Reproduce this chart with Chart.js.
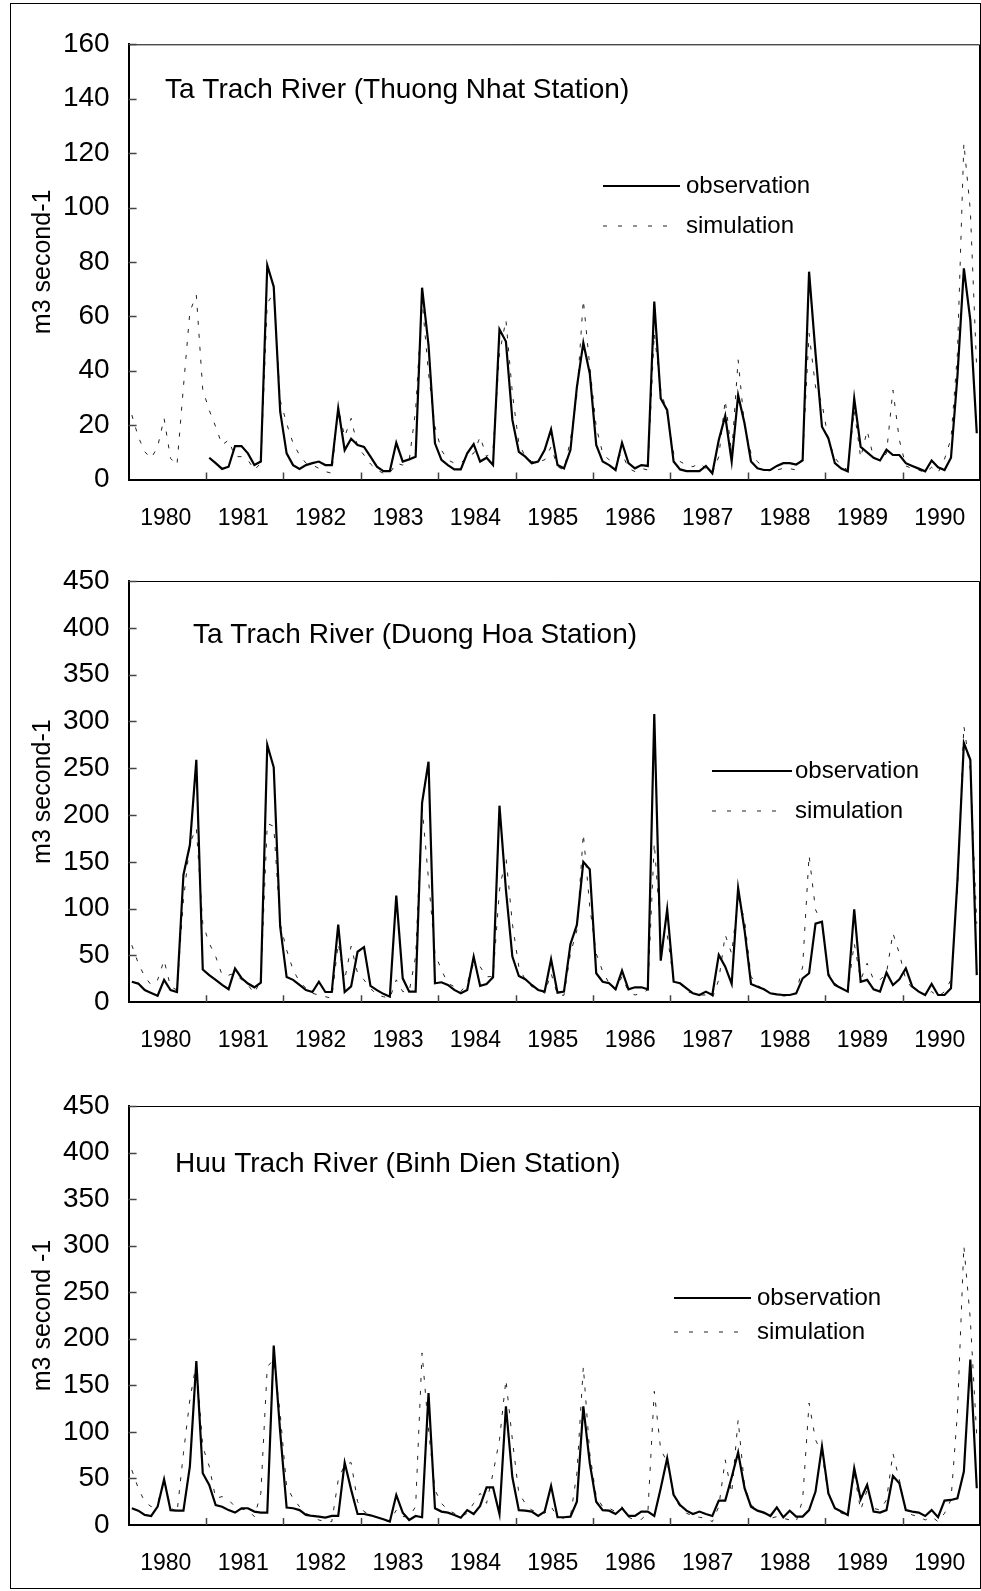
<!DOCTYPE html>
<html>
<head>
<meta charset="utf-8">
<title>Monthly discharge, observation vs simulation</title>
<script src="https://cdn.jsdelivr.net/npm/chart.js@4.4.1/dist/chart.umd.min.js"></script>
<style>
  html, body { margin: 0; padding: 0; background: #fff; }
  #page { position: relative; width: 981px; height: 1591px; overflow: hidden; background: #fff; }
  #frame { position: absolute; left: 10px; top: 3px; width: 969px; height: 1584px; border: 1px solid #000; }
  canvas { position: absolute; left: 0; }
</style>
</head>
<body>
<div id="page">
  <div id="frame"></div>
  <canvas id="thuongNhat" width="981" height="560" style="top:0px"></canvas>
  <canvas id="duongHoa" width="981" height="540" style="top:540px"></canvas>
  <canvas id="binhDien" width="981" height="521" style="top:1070px"></canvas>
</div>
<script>
"use strict";

// years on the x axis, one category per month
var YEARS = [1980, 1981, 1982, 1983, 1984, 1985, 1986, 1987, 1988, 1989, 1990];

var TICKS_TN = [0, 20, 40, 60, 80, 100, 120, 140, 160];
var TICKS_DH = [0, 50, 100, 150, 200, 250, 300, 350, 400, 450];
var TICKS_BD = [0, 50, 100, 150, 200, 250, 300, 350, 400, 450];

// Ta Trach River, Thuong Nhat station (m3/s), Jan 1980 .. Dec 1990
var TN_OBS = [
  null, null, null, null, null, null, null, null, null, null, null, null,
  8, 6, 3.9, 4.7, 12.3, 12.3, 9.6, 5.3, 6.6, 78.8, 70.9, 25,
  9.6, 5.3, 3.9, 5.3, 6, 6.6, 5.3, 5.3, 26.2, 10.8, 15, 12.7,
  12, 8.4, 4.7, 3.1, 3.1, 13.5, 6.6, 7.4, 8.4, 70.5, 49.4, 13.3,
  7.2, 5.3, 3.7, 3.7, 9.6, 13, 6.6, 8, 5.3, 55.2, 50.7, 21.9,
  10.2, 8.4, 6, 6.6, 10.8, 18.4, 5.3, 4.1, 10.8, 34, 50.3, 39,
  12.7, 6.6, 5.3, 3.5, 13.5, 6, 4.1, 5.3, 5, 65.4, 29.8, 25.5,
  6.6, 3.7, 3.1, 3.1, 3.1, 5, 2.3, 14.5, 23.4, 6.6, 31, 20.6,
  6.6, 4.1, 3.5, 3.5, 5, 6, 6, 5.5, 7, 76.4, 46.4, 19.4,
  15.1, 6, 4, 3, 29.8, 12, 10, 8, 7, 11, 9, 9,
  6, 5, 4, 3, 7, 4.5, 3.5, 8, 38, 77.6, 58.6, 17
];
var TN_SIM = [
  23.7, 15.7, 10.2, 7.8, 12, 22.5, 7.8, 5.3, 34, 61.7, 67.8, 33,
  25.5, 19.4, 12.7, 14.5, 8.4, 8.4, 7.2, 3.5, 6, 64.8, 68.5, 29.2,
  20.6, 13.3, 9, 6, 5.3, 4.1, 2.9, 2.3, 26.2, 15.7, 22.5, 12,
  9, 5.7, 3.5, 2.3, 2.3, 6, 5.3, 7, 25.5, 66, 39, 19.4,
  10.8, 7.2, 6, 6, 8.4, 9.6, 15.7, 8.4, 10.8, 46.4, 58.6, 31.7,
  13.3, 8.4, 6.6, 6.6, 7.2, 12, 4.7, 3.5, 14.5, 31, 66, 41.5,
  19.4, 9.6, 7.2, 7.2, 9.6, 4.1, 2.9, 4.1, 3.5, 53.7, 33, 24.3,
  9.6, 6.6, 5.3, 4.7, 6, 4.1, 2.3, 8.4, 29.2, 9.6, 44, 19.4,
  9.6, 6.6, 4.1, 2.9, 3.5, 4.1, 4, 3.5, 8, 53.7, 34, 28,
  14.5, 8, 5, 3.5, 25.5, 8, 18, 8, 7, 9.6, 32.9, 14.5,
  5, 4, 3.5, 2.5, 4.5, 2.5, 7.5, 15, 46.4, 123.6, 99, 40
];

// Ta Trach River, Duong Hoa station (m3/s)
var DH_OBS = [
  22, 20, 13, 10, 7, 24, 13, 11, 136, 168, 259, 35,
  29, 24, 18.5, 14, 36, 26, 20, 16, 21, 275, 251, 81,
  27, 24, 18.5, 13, 11, 22, 11, 11, 83, 11, 17, 54,
  59, 17.5, 13, 9, 6, 114, 25.6, 11.4, 11.4, 213, 257, 20.3,
  21.4, 18.5, 13.2, 9.6, 13.2, 48.8, 17.5, 19.6, 26.7, 210, 120, 48.8,
  28, 24.6, 18.5, 13.2, 11.4, 46, 10.3, 11.4, 62, 82.6, 150, 142,
  31, 22, 20.3, 13.9, 33.8, 13.9, 16, 16, 13.9, 308, 44.5, 99.4,
  22, 20.3, 15, 9.6, 7.8, 11.4, 7.8, 50.6, 38, 19.6, 122, 77,
  19.6, 16.7, 13.9, 9.6, 8.5, 7.8, 7.8, 9.6, 25.6, 31, 84, 86,
  29, 18.5, 15, 11.4, 99.4, 22, 24, 13.9, 11.4, 31.7, 18.5, 24.6,
  36.3, 16.7, 11.4, 7.8, 19.6, 7.8, 7.8, 15, 130, 277, 259, 29
];
var DH_SIM = [
  61, 41.7, 27.4, 18.5, 23.9, 45, 16.7, 13.2, 109, 170, 186, 84,
  63, 49, 29, 29, 31, 24, 18.5, 9.6, 24, 191, 188, 84,
  56, 34.6, 22, 15, 9.6, 7.8, 6, 4.3, 63, 24, 60, 31,
  24, 15, 7.8, 6, 4.3, 24, 11.4, 11.4, 49, 209, 131, 52,
  34.6, 20.3, 16.7, 11.4, 20.3, 41.7, 38, 27.4, 27.4, 120, 156, 84,
  38, 24, 16.7, 15, 9.6, 31, 7.8, 7.5, 52, 77, 180, 102,
  52, 33, 20.3, 13.2, 27.4, 11.4, 7.8, 9.6, 13.2, 170, 74, 72,
  24, 20.3, 11.4, 9.6, 7.8, 7.8, 4.3, 24, 72, 52, 113, 88,
  27.4, 18.5, 13.2, 9.6, 7.8, 6.8, 6.8, 9.6, 38, 157, 99, 84,
  31, 20.3, 15, 11.4, 63, 24, 41.7, 24, 24, 31, 74, 52,
  24, 15, 11.4, 7.8, 11.4, 6, 11.4, 24, 120, 295, 248, 84
];

// Huu Trach River, Binh Dien station (m3/s)
var BD_OBS = [
  18, 15.4, 10.8, 9.7, 19.7, 49, 16, 15.4, 15.4, 63, 176, 55.6,
  43, 21.5, 19.7, 16, 13.3, 18, 18, 14.4, 13.3, 13.3, 192.7, 100,
  18.7, 18, 16, 10.8, 9.7, 9, 7.9, 9.7, 9.7, 67, 38, 11.8,
  11.8, 10.4, 8.3, 6.1, 3.6, 32.3, 13.3, 5.4, 9.7, 8.3, 141.7, 18,
  14.4, 13.3, 10.8, 7.9, 16, 11.8, 20.5, 40.5, 40.5, 11.8, 127.4, 51.3,
  16, 15.4, 14.4, 9.7, 14.4, 42, 8.3, 8.3, 9, 25, 127.4, 66.4,
  25, 16, 15.4, 11.8, 18, 9.7, 9.7, 14.4, 14.4, 9.7, 39.5, 71.8,
  32.3, 21.5, 15.4, 11.8, 14.4, 11.8, 9.7, 26.2, 26.2, 51.3, 77.9, 39.5,
  19.7, 15.4, 13.3, 9.7, 19, 8.3, 15.4, 9, 9, 16, 35.9, 84.3,
  34, 18, 14.4, 10.8, 61, 27.6, 43, 14.4, 13.3, 16, 52.7, 44.9,
  16, 14.4, 13.3, 9.7, 16, 8.3, 26.2, 26.9, 28.7, 57.4, 177.6, 39.5
];
var BD_SIM = [
  59, 39.5, 25, 19.7, 23, 48.4, 19.7, 12.6, 77, 134.5, 174, 84,
  63, 28.7, 30.5, 27, 19.7, 17, 16, 9, 34, 170, 177.6, 120,
  41, 28.7, 19.7, 12.6, 9, 5.4, 3.6, 3.6, 48.4, 65, 67, 25,
  14.4, 10.8, 8.3, 4.7, 3.6, 16, 9, 9, 19.7, 184.8, 102, 37.7,
  23.3, 16, 12.6, 9, 12.6, 23.3, 34, 23.3, 55.6, 91.5, 156, 91.5,
  34, 23.3, 16, 14.4, 12.6, 19.7, 9, 7.2, 9, 55.6, 170, 77,
  30.5, 19.7, 18, 14.4, 19.7, 8.3, 5.4, 6.1, 12.6, 143.5, 80.7, 68,
  30.5, 19.7, 12.6, 9.7, 8.3, 7.2, 3.6, 19.7, 70, 34, 113, 41.3,
  21.5, 16, 12.6, 7.2, 9, 7.2, 5.4, 3.6, 27, 131, 91.5, 77,
  32.3, 18, 12.6, 10.8, 55.6, 16, 37.7, 18, 16, 27, 77, 48.4,
  14.4, 10.8, 9, 5.4, 9, 3.6, 12.6, 27, 120, 299.6, 220.7, 95
];

var MONTHS = [];
YEARS.forEach(function(y) {
  for (var m = 1; m <= 12; m++) {
    MONTHS.push(y + '-' + (m < 10 ? '0' + m : m));
  }
});

var FONT = '"Liberation Sans", Arial, Helvetica, sans-serif';
var TITLE_SIZE = 28;
var LEGEND_SIZE = 24;
var YTICK_SIZE = 28;
var XTICK_SIZE = 23;
var AXIS_TITLE_SIZE = 25;
var PLOT_LEFT = 128.6;

// title, legend and inside tick marks, Excel style
var panelDecor = {
  id: 'panelDecor',
  afterDraw: function(chart) {
    var o = chart.options.plugins.panelDecor;
    var ctx = chart.ctx;
    var area = chart.chartArea;
    var xs = chart.scales.x;
    var ys = chart.scales.y;
    ctx.save();

    // plot area frame (top and right)
    ctx.strokeStyle = '#000';
    ctx.lineWidth = 1;
    ctx.beginPath();
    ctx.moveTo(area.left, area.top + 0.5);
    ctx.lineTo(area.right - 0.5, area.top + 0.5);
    ctx.lineTo(area.right - 0.5, area.bottom);
    ctx.stroke();

    // tick marks drawn inside the plot
    ctx.strokeStyle = '#444';
    ctx.lineWidth = 1.5;
    ctx.beginPath();
    ys.ticks.forEach(function(t) {
      if (t.value === 0) return;
      var py = Math.round(ys.getPixelForValue(t.value)) + 0.5;
      ctx.moveTo(area.left, py);
      ctx.lineTo(area.left + 8, py);
    });
    for (var k = 1; k < YEARS.length; k++) {
      var px = (xs.getPixelForValue(12 * k - 1) + xs.getPixelForValue(12 * k)) / 2;
      px = Math.round(px) + 0.5;
      ctx.moveTo(px, area.bottom);
      ctx.lineTo(px, area.bottom - 7);
    }
    ctx.stroke();

    // station title
    ctx.fillStyle = '#000';
    ctx.font = TITLE_SIZE + 'px ' + FONT;
    ctx.textBaseline = 'middle';
    ctx.textAlign = 'left';
    ctx.fillText(o.title, o.titleX, o.titleY);

    // legend
    ctx.font = LEGEND_SIZE + 'px ' + FONT;
    ctx.strokeStyle = '#000';
    ctx.lineWidth = 2;
    ctx.beginPath();
    ctx.moveTo(o.legX, o.legY1);
    ctx.lineTo(o.legX + o.legW, o.legY1);
    ctx.stroke();
    ctx.lineWidth = 1;
    ctx.strokeStyle = '#222';
    ctx.setLineDash([4, 11]);
    ctx.beginPath();
    ctx.moveTo(o.legX, o.legY2);
    ctx.lineTo(o.legX + o.legW - 10, o.legY2);
    ctx.stroke();
    ctx.setLineDash([]);
    chart.data.datasets.forEach(function(ds, i) {
      ctx.fillText(ds.label, o.textX, i === 0 ? o.legY1 : o.legY2);
    });
    ctx.restore();
  }
};

function makePanel(canvasId, panel) {
  var ctx = document.getElementById(canvasId).getContext('2d');
  return new Chart(ctx, {
    type: 'line',
    data: {
      labels: MONTHS,
      datasets: [{
        label: 'observation',
        data: panel.obs,
        borderColor: '#000',
        borderWidth: 2.2,
        pointRadius: 0,
        tension: 0,
        spanGaps: false,
        fill: false
      }, {
        label: 'simulation',
        data: panel.sim,
        borderColor: '#222',
        borderWidth: 1,
        borderDash: [4, 9],
        pointRadius: 0,
        tension: 0,
        fill: false
      }]
    },
    options: {
      responsive: false,
      animation: false,
      events: [],
      layout: {
        padding: { left: 0, right: 1, top: panel.padTop, bottom: 0 }
      },
      scales: {
        x: {
          type: 'category',
          offset: true,
          grid: { display: false, drawTicks: false },
          border: { display: true, color: '#000', width: 2 },
          afterFit: function(scale) {
            // plot runs right up to the frame, no room kept for labels
            scale.height = panel.xAxisH;
            scale.paddingLeft = 0;
            scale.paddingRight = 0;
          },
          ticks: {
            autoSkip: false,
            maxRotation: 0,
            minRotation: 0,
            padding: 25,
            labelOffset: -4.7,
            color: '#000',
            font: { family: FONT, size: XTICK_SIZE },
            callback: function(value, index) {
              return index % 12 === 6 ? String(YEARS[Math.floor(index / 12)]) : '';
            }
          }
        },
        y: {
          min: 0,
          max: panel.ticks[panel.ticks.length - 1],
          grid: { display: false, drawTicks: false },
          border: { display: true, color: '#000', width: 2 },
          afterFit: function(scale) { scale.width = PLOT_LEFT; },
          afterBuildTicks: function(scale) {
            scale.ticks = panel.ticks.map(function(v) { return { value: v }; });
          },
          ticks: {
            padding: 19,
            color: '#000',
            font: { family: FONT, size: YTICK_SIZE }
          },
          title: {
            display: true,
            text: panel.yTitle,
            color: '#000',
            padding: { top: 28, bottom: 0 },
            font: { family: FONT, size: AXIS_TITLE_SIZE }
          }
        }
      },
      plugins: {
        legend: { display: false },
        tooltip: { enabled: false },
        panelDecor: panel.decor
      }
    },
    plugins: [panelDecor]
  });
}

makePanel('thuongNhat', {
  obs: TN_OBS, sim: TN_SIM, ticks: TICKS_TN, yTitle: 'm3 second-1',
  padTop: 44.3, xAxisH: 80.5,
  decor: { title: 'Ta Trach River (Thuong Nhat Station)', titleX: 165, titleY: 90,
           legX: 603, legW: 77, legY1: 186, legY2: 226, textX: 686 }
});

makePanel('duongHoa', {
  obs: DH_OBS, sim: DH_SIM, ticks: TICKS_DH, yTitle: 'm3 second-1',
  padTop: 41, xAxisH: 77.7,
  decor: { title: 'Ta Trach River (Duong Hoa Station)', titleX: 193, titleY: 95,
           legX: 712, legW: 80, legY1: 231, legY2: 271, textX: 795 }
});

makePanel('binhDien', {
  obs: BD_OBS, sim: BD_SIM, ticks: TICKS_BD, yTitle: 'm3 second -1',
  padTop: 36, xAxisH: 66,
  decor: { title: 'Huu Trach River (Binh Dien Station)', titleX: 175, titleY: 94,
           legX: 674, legW: 77, legY1: 228, legY2: 262, textX: 757 }
});
</script>
</body>
</html>
